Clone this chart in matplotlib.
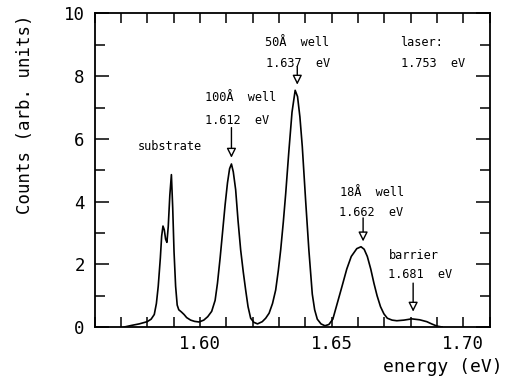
import matplotlib
matplotlib.use("Agg")
import matplotlib.pyplot as plt
from matplotlib.ticker import MultipleLocator

# Photoluminescence spectrum (energy in eV, counts in arbitrary units)
energy = [
    1.5713, 1.5740, 1.5770, 1.5800, 1.5815, 1.5827, 1.5835, 1.5842, 1.5850, 1.5855,
    1.5860, 1.5865, 1.5870, 1.5875, 1.5880, 1.5886, 1.5892, 1.5897, 1.5902, 1.5908,
    1.5914, 1.5920, 1.5930, 1.5940, 1.5950, 1.5965, 1.5980, 1.5997, 1.6015, 1.6030,
    1.6045, 1.6058, 1.6067, 1.6077, 1.6086, 1.6096, 1.6105, 1.6113, 1.6120, 1.6127,
    1.6136, 1.6145, 1.6155, 1.6165, 1.6174, 1.6183, 1.6193, 1.6205, 1.6219, 1.6237,
    1.6250, 1.6263, 1.6276, 1.6288, 1.6298, 1.6307, 1.6317, 1.6326, 1.6338, 1.6350,
    1.6362, 1.6371, 1.6380, 1.6389, 1.6402, 1.6414, 1.6427, 1.6436, 1.6446, 1.6460,
    1.6475, 1.6490, 1.6505, 1.6520, 1.6540, 1.6558, 1.6575, 1.6596, 1.6612, 1.6624,
    1.6636, 1.6649, 1.6661, 1.6673, 1.6686, 1.6699, 1.6712, 1.6730, 1.6748, 1.6775,
    1.6805, 1.6835, 1.6862, 1.6880, 1.6900, 1.6920,
]
counts = [
    0.00, 0.05, 0.10, 0.17, 0.25, 0.40, 0.75, 1.30, 2.20, 2.90,
    3.22, 3.10, 2.80, 2.70, 3.20, 4.20, 4.86, 3.80, 2.40, 1.30,
    0.70, 0.55, 0.48, 0.40, 0.30, 0.22, 0.18, 0.16, 0.22, 0.33,
    0.50, 0.85, 1.40, 2.20, 3.00, 3.90, 4.60, 5.05, 5.20, 4.95,
    4.38, 3.40, 2.46, 1.75, 1.18, 0.65, 0.28, 0.15, 0.10, 0.17,
    0.28, 0.44, 0.75, 1.18, 1.80, 2.46, 3.35, 4.25, 5.60, 6.85,
    7.55, 7.35, 6.70, 5.76, 4.00, 2.46, 1.05, 0.55, 0.25, 0.10,
    0.04, 0.08, 0.25, 0.70, 1.30, 1.85, 2.25, 2.50, 2.56, 2.48,
    2.25, 1.85, 1.40, 1.00, 0.65, 0.42, 0.28, 0.22, 0.20, 0.22,
    0.26, 0.23, 0.17, 0.10, 0.03, 0.00,
]

# Peak markers: name, peak energy, arrow tip and tail heights
peak_names = ["100Å  well", "50Å  well", "18Å  well", "barrier"]
peak_energy = [1.612, 1.637, 1.662, 1.681]
arrow_tip = [5.40, 7.73, 2.73, 0.49]
arrow_tail = [6.36, 8.30, 3.48, 1.40]
name_pos = [(1.6019, 7.31), (1.6246, 9.06), (1.6534, 4.29), (1.6716, 2.28)]
value_pos = [(1.6019, 6.59), (1.6250, 8.42), (1.6527, 3.65), (1.6716, 1.66)]

laser_energy = 1.753

plt.rcParams["font.family"] = ["DejaVu Sans Mono", "DejaVu Sans"]

fig = plt.figure(figsize=(5.07, 3.81), dpi=100)
ax = fig.add_axes([0.1864, 0.1417, 0.7791, 0.8229])

ax.plot(energy, counts, color="black", lw=1.2)

ax.set_xlim(1.56, 1.71)
ax.set_ylim(0, 10)

ax.xaxis.set_major_locator(MultipleLocator(0.05))
ax.xaxis.set_minor_locator(MultipleLocator(0.01))
ax.yaxis.set_major_locator(MultipleLocator(2))
ax.yaxis.set_minor_locator(MultipleLocator(1))
ax.set_xticks([1.60, 1.65, 1.70])
ax.set_xticklabels(["1.60", "1.65", "1.70"])

ax.tick_params(axis="both", which="both", direction="in",
               top=True, right=True, width=1.1, labelsize=12.5)
ax.tick_params(axis="x", which="major", length=7.5, pad=6)
ax.tick_params(axis="x", which="minor", length=7.5)
ax.tick_params(axis="y", which="major", length=10, pad=7)
ax.tick_params(axis="y", which="minor", length=7.5)
for sp in ax.spines.values():
    sp.set_linewidth(1.3)

ax.text(1.5765, 5.76, "substrate", fontsize=8.6, va="center", ha="left")
ax.text(1.6761, 9.06, "laser:", fontsize=8.6, va="center", ha="left")
ax.text(1.6765, 8.42, f"{laser_energy:.3f}  eV", fontsize=8.6, va="center", ha="left")

for name, e, tip, tail, npos, vpos in zip(peak_names, peak_energy, arrow_tip,
                                          arrow_tail, name_pos, value_pos):
    ax.text(npos[0], npos[1], name, fontsize=8.6, va="center", ha="left")
    ax.text(vpos[0], vpos[1], f"{e:.3f}  eV", fontsize=8.6, va="center", ha="left")
    ax.annotate("", xy=(e, tip), xytext=(e, tail),
                arrowprops=dict(arrowstyle="-|>", fc="white", ec="black",
                                lw=1.0, mutation_scale=14,
                                shrinkA=0, shrinkB=0))

fig.text(25 / 507, 1 - 114 / 381, "Counts (arb. units)", rotation=90,
         fontsize=12.5, ha="center", va="center")
fig.text(503 / 507, 9 / 381, "energy (eV)", fontsize=13,
         ha="right", va="baseline")

fig.savefig("out.png", dpi=100)
